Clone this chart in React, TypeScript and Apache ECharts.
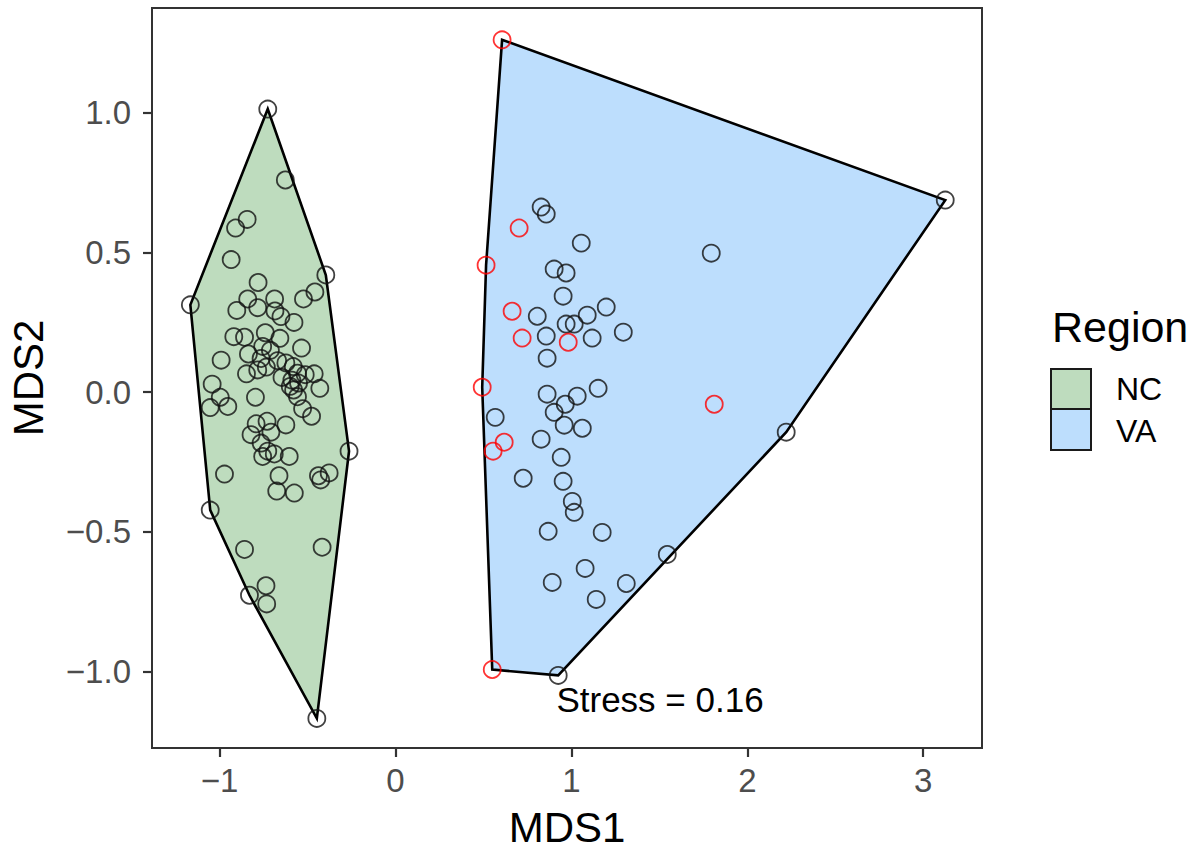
import React, { useEffect, useRef } from "react";
import * as echarts from "echarts";

// ---- Data ----
const ncX = [
  -0.726, -0.626, -0.843, -0.909, -0.934, -1.166, -0.396, -0.458, -0.523, -0.781,
  -0.84, -0.687, -0.902, -0.783, -0.685, -0.651, -0.577, -0.919, -0.858, -0.74,
  -0.657, -0.534, -0.836, -0.755, -0.991, -1.042, -0.996, -1.053, -0.953, -0.847,
  -0.783, -0.734, -0.796, -0.711, -0.764, -0.67, -0.623, -0.581, -0.645, -0.557,
  -0.513, -0.462, -0.598, -0.579, -0.557, -0.589, -0.43, -0.528, -0.477, -0.264,
  -0.623, -0.792, -0.821, -0.73, -0.708, -0.764, -0.726, -0.755, -0.689, -0.604,
  -0.662, -0.675, -0.575, -0.972, -0.438, -0.377, -1.053, -0.858, -0.417, -0.736,
  -0.83, -0.732, -0.447, -0.551, -0.425,
];
const ncY = [
  1.014, 0.76, 0.619, 0.588, 0.475, 0.313, 0.42, 0.359, 0.334, 0.393,
  0.334, 0.334, 0.293, 0.303, 0.291, 0.271, 0.25, 0.199, 0.197, 0.213,
  0.193, 0.158, 0.137, 0.164, 0.115, 0.029, -0.018, -0.055, -0.051, 0.066,
  0.08, 0.09, -0.018, 0.15, 0.121, 0.113, 0.105, 0.092, 0.053, 0.068,
  0.063, 0.066, 0.021, 0.008, -0.016, 0.043, 0.014, -0.059, -0.086, -0.211,
  -0.117, -0.113, -0.152, -0.104, -0.143, -0.182, -0.211, -0.23, -0.221, -0.23,
  -0.299, -0.354, -0.361, -0.293, -0.299, -0.289, -0.422, -0.563, -0.555, -0.693,
  -0.727, -0.758, -1.168, 0.033, -0.314,
];

// VA points drawn with black outline
const vaX = [
  3.125, 0.828, 0.857, 1.056, 1.795, 0.902, 0.97, 0.953, 0.806, 1.09,
  1.198, 0.97, 1.016, 1.295, 0.857, 1.118, 0.862, 0.862, 1.033, 1.152,
  0.965, 0.902, 0.959, 1.062, 0.567, 0.828, 2.221, 0.942, 0.726, 0.953,
  1.005, 1.016, 0.868, 1.175, 1.545, 1.078, 0.891, 1.312, 1.141, 0.925,
];
const vaY = [
  0.688, 0.663, 0.638, 0.534, 0.498, 0.441, 0.427, 0.344, 0.272, 0.276,
  0.305, 0.244, 0.244, 0.215, 0.201, 0.194, 0.122, -0.007, -0.014, 0.014,
  -0.043, -0.072, -0.118, -0.129, -0.09, -0.168, -0.143, -0.233, -0.308, -0.319,
  -0.391, -0.43, -0.498, -0.502, -0.581, -0.631, -0.681, -0.685, -0.742, -1.014,
];

// VA points drawn with red outline
const vaRedX = [0.606, 0.703, 0.515, 0.663, 0.72, 0.982, 0.493, 1.812, 0.618, 0.555, 0.55];
const vaRedY = [1.262, 0.588, 0.455, 0.29, 0.194, 0.179, 0.018, -0.043, -0.179, -0.211, -0.993];

const xTicks = [-1, 0, 1, 2, 3];
const yTicks = [-1, -0.5, 0, 0.5, 1];
const regions = ["NC", "VA"];
const stressLabel = "Stress = 0.16";

const FONT = "'Liberation Sans', Arial, Helvetica, sans-serif";
const NC_FILL = "#BEDCBE";
const VA_FILL = "#BDDEFD";

function zip(xs: number[], ys: number[]): number[][] {
  return xs.map((x, i) => [x, ys[i]]);
}

function convexHull(points: number[][]): number[][] {
  const pts = points.slice().sort((a, b) => (a[0] - b[0]) || (a[1] - b[1]));
  const cross = (o: number[], a: number[], b: number[]) =>
    (a[0] - o[0]) * (b[1] - o[1]) - (a[1] - o[1]) * (b[0] - o[0]);
  const lower: number[][] = [];
  for (const p of pts) {
    while (lower.length >= 2 && cross(lower[lower.length - 2], lower[lower.length - 1], p) <= 0) lower.pop();
    lower.push(p);
  }
  const upper: number[][] = [];
  for (let i = pts.length - 1; i >= 0; i--) {
    const p = pts[i];
    while (upper.length >= 2 && cross(upper[upper.length - 2], upper[upper.length - 1], p) <= 0) upper.pop();
    upper.push(p);
  }
  upper.pop();
  lower.pop();
  return lower.concat(upper);
}

function fmt(v: number, digits: number): string {
  const s = Math.abs(v).toFixed(digits);
  return v < -1e-9 ? "\u2212" + s : s;
}

export default function App() {
  const ref = useRef<HTMLDivElement>(null);

  useEffect(() => {
    document.body.style.margin = "0";
    if (!ref.current) return;
    const chart = echarts.init(ref.current, undefined, { renderer: "svg" });

    const ncPts = zip(ncX, ncY);
    const vaBlack = zip(vaX, vaY);
    const vaRed = zip(vaRedX, vaRedY);
    const ncHull = convexHull(ncPts);
    const vaHull = convexHull(vaBlack.concat(vaRed));

    const hullSeries = (hull: number[][], fill: string) => ({
      type: "custom",
      silent: true,
      clip: false,
      z: 1,
      data: [hull[0]],
      renderItem: (_params: any, api: any) => ({
        type: "polygon",
        shape: { points: hull.map((p) => api.coord(p)) },
        style: { fill, stroke: "#000000", lineWidth: 2.6, lineJoin: "miter" },
      }),
    });

    const pointStyle = (c: string) => ({
      color: "rgba(0,0,0,0)",
      borderColor: c,
      borderWidth: 1.8,
    });

    const option: any = {
      animation: false,
      backgroundColor: "#ffffff",
      textStyle: { fontFamily: FONT },
      grid: {
        left: 152,
        right: 216,
        top: 8,
        bottom: 102,
        outerBoundsMode: "none",
        containLabel: false,
        show: true,
        borderColor: "#333333",
        borderWidth: 2,
        backgroundColor: "#ffffff",
      },
      xAxis: {
        type: "value",
        min: -1.384,
        max: 3.334,
        name: "MDS1",
        nameLocation: "middle",
        nameGap: 58,
        nameTextStyle: { fontSize: 42, lineHeight: 42, color: "#000", fontFamily: FONT },
        splitLine: { show: false },
        axisLine: { show: true, onZero: false, lineStyle: { color: "#333333", width: 2 } },
        axisTick: { show: true, length: 9, customValues: xTicks, lineStyle: { color: "#333333", width: 2.2 } },
        axisLabel: {
          customValues: xTicks,
          margin: 16,
          fontSize: 33,
          color: "#4D4D4D",
          fontFamily: FONT,
          formatter: (v: number) => fmt(v, 0),
        },
      },
      yAxis: {
        type: "value",
        min: -1.274,
        max: 1.376,
        name: "MDS2",
        nameLocation: "middle",
        nameGap: 103,
        nameRotate: 90,
        nameTextStyle: { fontSize: 42, lineHeight: 42, color: "#000", fontFamily: FONT },
        splitLine: { show: false },
        axisLine: { show: true, onZero: false, lineStyle: { color: "#333333", width: 2 } },
        axisTick: { show: true, length: 9, customValues: yTicks, lineStyle: { color: "#333333", width: 2.2 } },
        axisLabel: {
          customValues: yTicks,
          margin: 21,
          fontSize: 33,
          color: "#4D4D4D",
          fontFamily: FONT,
          formatter: (v: number) => fmt(v, 1),
        },
      },
      series: [
        hullSeries(ncHull, NC_FILL),
        hullSeries(vaHull, VA_FILL),
        {
          type: "scatter",
          name: regions[0],
          data: ncPts,
          symbol: "circle",
          symbolSize: 17,
          z: 3,
          itemStyle: pointStyle("#111111"),
        },
        {
          type: "scatter",
          name: regions[1],
          data: vaBlack,
          symbol: "circle",
          symbolSize: 17,
          z: 3,
          itemStyle: pointStyle("#111111"),
        },
        {
          type: "scatter",
          name: regions[1] + " (red)",
          data: vaRed,
          symbol: "circle",
          symbolSize: 17,
          z: 4,
          itemStyle: pointStyle("#FF0000"),
        },
      ],
      graphic: [
        {
          type: "text",
          left: 1052,
          top: 305,
          style: { text: "Region", fontSize: 43, fill: "#000", fontFamily: FONT },
        },
        {
          type: "rect",
          shape: { x: 1051, y: 369, width: 40, height: 40 },
          style: { fill: NC_FILL, stroke: "#1a1a1a", lineWidth: 2 },
        },
        {
          type: "rect",
          shape: { x: 1051, y: 409, width: 40, height: 41 },
          style: { fill: VA_FILL, stroke: "#1a1a1a", lineWidth: 2 },
        },
        {
          type: "text",
          x: 1116,
          y: 389,
          style: { text: regions[0], fontSize: 32, fill: "#000", fontFamily: FONT, verticalAlign: "middle" },
        },
        {
          type: "text",
          x: 1116,
          y: 431,
          style: { text: regions[1], fontSize: 32, fill: "#000", fontFamily: FONT, verticalAlign: "middle" },
        },
        {
          type: "text",
          x: 660,
          y: 699,
          style: {
            text: stressLabel,
            fontSize: 35,
            fill: "#000",
            fontFamily: FONT,
            align: "center",
            verticalAlign: "middle",
          },
        },
      ],
    };

    chart.setOption(option);
    return () => chart.dispose();
  }, []);

  return <div ref={ref} style={{ width: 1198, height: 850 }} />;
}
